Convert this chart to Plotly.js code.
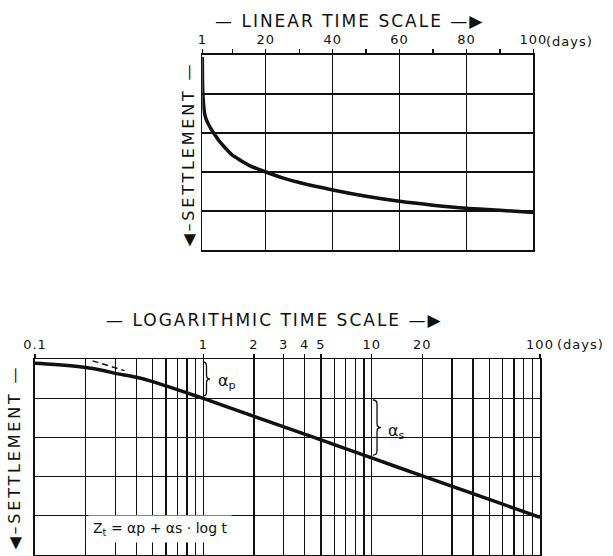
<!DOCTYPE html>
<html>
<head>
<meta charset="utf-8">
<script src="https://cdn.plot.ly/plotly-3.0.1.min.js"></script>
<style>html,body{margin:0;padding:0;background:#fff;}#chart{width:613px;height:556px;}</style>
</head>
<body>
<div id="chart"></div>
<script>
// ---- data ----
const linT = [1, 1.05, 1.2, 1.5, 1.8, 2.3, 3, 4, 4.8, 6, 7.6, 10, 12.6, 15, 17.5, 20, 25, 30, 40, 50, 60, 70, 80, 90, 100];
const linZ = [0.05, 0.6, 1.05, 1.38, 1.55, 1.68, 1.8, 1.95, 2.05, 2.2, 2.36, 2.57, 2.71, 2.83, 2.92, 3.0, 3.15, 3.27, 3.46, 3.62, 3.75, 3.85, 3.93, 3.98, 4.04];

const logT = [0.1, 0.15, 0.2, 0.25, 0.3, 0.4, 0.5, 0.6, 0.8, 1, 2, 5, 10, 20, 50, 100];
const logZ = [0.1, 0.15, 0.21, 0.28, 0.36, 0.46, 0.57, 0.68, 0.86, 1.0, 1.46, 2.06, 2.52, 2.98, 3.58, 4.04];

const tangentT = [0.22, 0.34];
const tangentZ = [0.04, 0.29];

const linTickVals = [1, 20, 40, 60, 80, 100];
const linTickText = ['1', '20', '40', '60', '80', '100'];
const linMinorVals = [10, 30, 50, 70, 90];

const logTickVals = [0.1, 1, 2, 3, 4, 5, 10, 20, 100];
const logTickText = ['0.1', '1', '2', '3', '4', '5', '10', '20', '100'];
const logMinorVals = [0.2, 0.3, 0.4, 0.5, 0.6, 0.7, 0.8, 0.9, 6, 7, 8, 9, 30, 40, 50, 60, 70, 80, 90];

// ---- layout helpers ----
const W = 613, H = 556;
const px = x => x / W;
const py = y => 1 - y / H;
const INK = '#111';
const FONT = 'DejaVu Sans, sans-serif';

function brace(x, y0, y1, w) {
  const xm = x + w / 2, xe = x + w, ym = (y0 + y1) / 2, r = 4;
  const P = (a, b) => px(a).toFixed(5) + ',' + py(b).toFixed(5);
  return 'M ' + P(x, y0) + ' Q ' + P(xm, y0) + ' ' + P(xm, y0 + r) +
    ' L ' + P(xm, ym - r) + ' Q ' + P(xm, ym) + ' ' + P(xe, ym) +
    ' Q ' + P(xm, ym) + ' ' + P(xm, ym + r) + ' L ' + P(xm, y1 - r) +
    ' Q ' + P(xm, y1) + ' ' + P(x, y1);
}

const traces = [
  {x: linT, y: linZ, xaxis: 'x', yaxis: 'y', mode: 'lines', line: {color: INK, width: 3.5, shape: 'spline', smoothing: 0.6}, hoverinfo: 'skip'},
  {x: logT, y: logZ, xaxis: 'x2', yaxis: 'y2', mode: 'lines', line: {color: INK, width: 3.5, shape: 'spline', smoothing: 0.5}, hoverinfo: 'skip'},
  {x: tangentT, y: tangentZ, xaxis: 'x2', yaxis: 'y2', mode: 'lines', line: {color: INK, width: 1.5, dash: '6px,4px'}, hoverinfo: 'skip'}
];

const axCommon = {
  showline: true, mirror: true, linecolor: INK, linewidth: 1.6,
  showgrid: true, gridcolor: INK, gridwidth: 1.2, zeroline: false,
  tickfont: {family: FONT, size: 13, color: INK}, fixedrange: true
};

const layout = {
  width: W, height: H,
  margin: {l: 0, r: 0, t: 0, b: 0},
  paper_bgcolor: '#fff', plot_bgcolor: '#fff',
  showlegend: false,
  font: {family: FONT, color: INK},
  xaxis: Object.assign({}, axCommon, {
    domain: [px(202.3), px(533.3)], range: [1, 100], side: 'top', anchor: 'y',
    tickmode: 'array', tickvals: linTickVals, ticktext: linTickText,
    ticks: 'outside', ticklen: 4, tickwidth: 1.3, tickcolor: INK,
    minor: {tickmode: 'array', tickvals: linMinorVals, ticks: 'outside', ticklen: 4, tickwidth: 1.3, tickcolor: INK, showgrid: false}
  }),
  yaxis: Object.assign({}, axCommon, {
    domain: [py(250), py(55)], range: [5, 0], anchor: 'x',
    tickmode: 'linear', tick0: 0, dtick: 1, showticklabels: false, ticks: ''
  }),
  xaxis2: Object.assign({}, axCommon, {
    domain: [px(35), px(540)], type: 'log', range: [-1, 2], side: 'top', anchor: 'y2',
    tickmode: 'array', tickvals: logTickVals, ticktext: logTickText,
    ticks: 'outside', ticklen: 4, tickwidth: 1.3, tickcolor: INK,
    minor: {tickmode: 'array', tickvals: logMinorVals, ticks: '', showgrid: true, gridcolor: INK, gridwidth: 1.2}
  }),
  yaxis2: Object.assign({}, axCommon, {
    domain: [py(555), py(359.3)], range: [5, 0], anchor: 'x2',
    tickmode: 'linear', tick0: 0, dtick: 1, showticklabels: false, ticks: ''
  }),
  shapes: [
    {type: 'path', xref: 'paper', yref: 'paper', path: brace(203, 362, 396, 7), line: {color: INK, width: 1.3}},
    {type: 'path', xref: 'paper', yref: 'paper', path: brace(373, 400, 455, 8), line: {color: INK, width: 1.3}}
  ],
  annotations: [
    {text: '— LINEAR TIME SCALE —▶', xref: 'paper', yref: 'paper', x: px(350), y: py(21), showarrow: false, xanchor: 'center', yanchor: 'middle', font: {family: FONT, size: 17, color: INK}},
    {text: '— LOGARITHMIC TIME SCALE —▶', xref: 'paper', yref: 'paper', x: px(275), y: py(320), showarrow: false, xanchor: 'center', yanchor: 'middle', font: {family: FONT, size: 17, color: INK}},
    {text: '(days)', xref: 'x', yref: 'paper', x: 100, xshift: 14, y: py(42), showarrow: false, xanchor: 'left', yanchor: 'middle', font: {family: FONT, size: 13, color: INK}},
    {text: '(days)', xref: 'x2', yref: 'paper', x: 2, xshift: 18, y: py(344), showarrow: false, xanchor: 'left', yanchor: 'middle', font: {family: FONT, size: 13, color: INK}},
    {text: '◀–SETTLEMENT —', xref: 'paper', yref: 'paper', x: px(188), y: py(154), textangle: -90, showarrow: false, xanchor: 'center', yanchor: 'middle', font: {family: FONT, size: 16, color: INK}},
    {text: '◀–SETTLEMENT —', xref: 'paper', yref: 'paper', x: px(14), y: py(457), textangle: -90, showarrow: false, xanchor: 'center', yanchor: 'middle', font: {family: FONT, size: 16, color: INK}},
    {text: 'α<sub>p</sub>', xref: 'paper', yref: 'paper', x: px(216), y: py(381), showarrow: false, xanchor: 'left', yanchor: 'middle', font: {family: FONT, size: 16, color: INK}},
    {text: 'α<sub>s</sub>', xref: 'paper', yref: 'paper', x: px(386), y: py(431), showarrow: false, xanchor: 'left', yanchor: 'middle', font: {family: FONT, size: 16, color: INK}},
    {text: 'Z<sub>t</sub> = αp + αs · log t', xref: 'paper', yref: 'paper', x: px(88), y: py(529), showarrow: false, xanchor: 'left', yanchor: 'middle', bgcolor: '#fff', borderpad: 4, font: {family: FONT, size: 14, color: INK}}
  ]
};

Plotly.newPlot('chart', traces, layout, {staticPlot: true, displayModeBar: false}).then(gd => {
  // widen the lettering like the technical-drawing original
  const spacing = {'— LINEAR TIME SCALE —▶': 2, '— LOGARITHMIC TIME SCALE —▶': 2, '◀–SETTLEMENT —': 2.8, '(days)': 1};
  gd.querySelectorAll('.annotation-text').forEach(t => {
    const s = spacing[t.textContent];
    if (s) t.style.letterSpacing = s + 'px';
  });
  gd.querySelectorAll('.xtick text, .x2tick text').forEach(t => { t.style.letterSpacing = '1px'; });
});
</script>
</body>
</html>
